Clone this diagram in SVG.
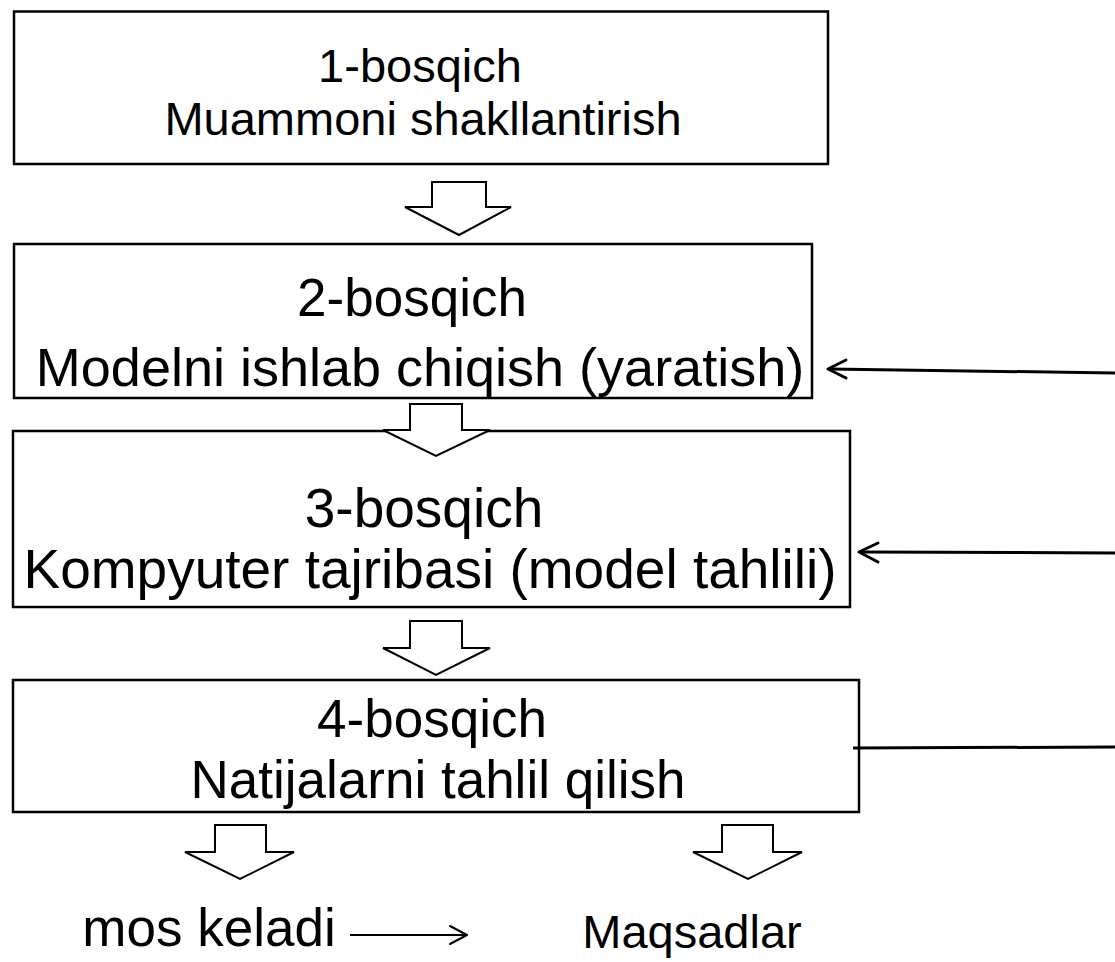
<svg xmlns="http://www.w3.org/2000/svg" width="1115" height="962" viewBox="0 0 1115 962">
<style>
.box{fill:#fff;stroke:#000;stroke-width:2.5}
.blk{fill:#fff;stroke:#000;stroke-width:2}
.ln{fill:none;stroke:#000;stroke-width:3}
.hd{fill:none;stroke:#000;stroke-width:3;stroke-linecap:round;stroke-linejoin:round}
text{font-family:"Liberation Sans",Arial,sans-serif;fill:#000;text-anchor:middle}
</style>
<rect width="1115" height="962" fill="#fff"/>
<g id="node1">
<rect class="box" x="14" y="11.5" width="814" height="152.5"/>
<text x="420" y="82" font-size="47">1-bosqich</text>
<text x="423" y="135" font-size="47">Muammoni shakllantirish</text>
</g>
<g id="node2">
<rect class="box" x="14" y="244" width="798" height="154"/>
<text x="412" y="316" font-size="53">2-bosqich</text>
<text x="420" y="386" font-size="54">Modelni ishlab chiqish (yaratish)</text>
</g>
<g id="node3">
<rect class="box" x="13" y="431" width="837" height="176"/>
<text x="424" y="527" font-size="55">3-bosqich</text>
<text x="430" y="588" font-size="55">Kompyuter tajribasi (model tahlili)</text>
</g>
<g id="node4">
<rect class="box" x="13" y="680" width="846" height="132"/>
<text x="432" y="737" font-size="53">4-bosqich</text>
<text x="438" y="798" font-size="53">Natijalarni tahlil qilish</text>
</g>
<g id="node5"><text x="209" y="946" font-size="53">mos keladi</text></g>
<g id="node6"><text x="692" y="948" font-size="47">Maqsadlar</text></g>
<g id="connectors">
<polygon class="blk" points="432,182 486,182 486,207 511,207 459,235 405,207 432,207"/>
<polygon class="blk" points="410,404 462,404 462,430 490,430 436,456 383,430 410,430"/>
<polygon class="blk" points="410,621 462,621 462,648 490,648 436,675 383,648 410,648"/>
<polygon class="blk" points="215,825 266,825 266,852 294,852 240,879 185,852 215,852"/>
<polygon class="blk" points="722,825 773,825 773,852 802,852 748,879 693,852 722,852"/>
<line class="ln" x1="1115" y1="373" x2="829" y2="369"/>
<polyline class="hd" points="846,360 828,369 846,378"/>
<line class="ln" x1="1115" y1="553" x2="860" y2="552"/>
<polyline class="hd" points="878,543 859,552 878,562"/>
<line class="ln" x1="853" y1="748" x2="1115" y2="747"/>
<line class="ln" x1="350" y1="935" x2="466" y2="935" style="stroke-width:2"/>
<polyline class="hd" points="450,926 467,935 450,944" style="stroke-width:2"/>
</g>
</svg>
